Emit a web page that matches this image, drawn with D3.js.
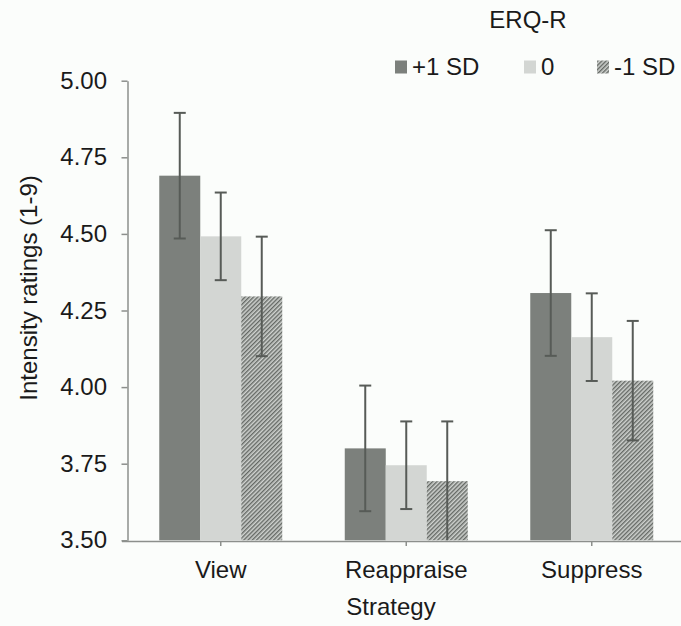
<!DOCTYPE html>
<html><head><meta charset="utf-8">
<script src="https://cdn.jsdelivr.net/npm/d3@7"></script>
<style>
html,body{margin:0;padding:0;background:#fbfdfb;}
svg{display:block;}
text{font-family:"Liberation Sans",Arial,sans-serif;fill:#1a1a1a;}
</style></head>
<body><svg id="c" width="681" height="626"></svg>
<script>
const categories = ["View", "Reappraise", "Suppress"];
const seriesNames = ["+1 SD", "0", "-1 SD"];
const plus1SD = [4.69, 3.80, 4.307];
const zeroSD = [4.492, 3.745, 4.163];
const minus1SD = [4.296, 3.693, 4.021];
const plus1Err = [0.205, 0.205, 0.205];
const zeroErr = [0.143, 0.143, 0.143];
const minus1Err = [0.195, 0.195, 0.195];
const yTicks = [3.50, 3.75, 4.00, 4.25, 4.50, 4.75, 5.00];

const values = [plus1SD, zeroSD, minus1SD];
const errs = [plus1Err, zeroErr, minus1Err];
const fills = ["#7c807c", "#d3d6d3", "url(#hatch)"];
const FS = "24px";

const svg = d3.select("#c");
const defs = svg.append("defs");
const pat = defs.append("pattern").attr("id","hatch").attr("patternUnits","userSpaceOnUse")
  .attr("width",3).attr("height",3).attr("patternTransform","rotate(45)");
pat.append("rect").attr("width",3).attr("height",3).attr("fill","#cfd2cf");
pat.append("rect").attr("width",1.4).attr("height",3).attr("fill","#656965");

const y = d3.scaleLinear().domain([3.5,5.0]).range([540.3,80.7]);
const x0 = d3.scaleBand().domain(categories).range([128,684.5]).paddingInner(0.337).paddingOuter(0.1685);
const x1 = d3.scaleBand().domain(seriesNames).range([0,x0.bandwidth()]).padding(0);

const axisColor = "#8c8f8c";
// y axis
const yAxis = svg.append("g").attr("transform","translate(127.5,0)")
  .call(d3.axisLeft(y).tickValues(yTicks).tickFormat(d3.format(".2f")).tickSize(6).tickSizeOuter(0));
yAxis.select(".domain").attr("stroke",axisColor).attr("stroke-width",1.5);
yAxis.selectAll(".tick line").attr("stroke",axisColor).attr("stroke-width",1.5);
yAxis.selectAll(".tick text").attr("x",-20.5).attr("font-size",FS).attr("fill","#1a1a1a")
  .style("font-family","'Liberation Sans',Arial,sans-serif");

// bars
const groups = svg.append("g").selectAll("g").data(categories).join("g")
  .attr("transform",d=>`translate(${x0(d)},0)`);
seriesNames.forEach((s,si)=>{
  groups.append("rect")
    .attr("x",x1(s)).attr("width",x1.bandwidth())
    .attr("y",(d,i)=>y(values[si][i]))
    .attr("height",(d,i)=>y(3.5)-y(values[si][i]))
    .attr("fill",fills[si]);
});

// x axis
const xAxis = svg.append("g").attr("transform","translate(0,541)")
  .call(d3.axisBottom(x0).tickSize(5).tickSizeOuter(0));
xAxis.select(".domain").attr("d","M122,0.5H681").attr("stroke",axisColor).attr("stroke-width",1.5);
xAxis.selectAll(".tick line").attr("stroke",axisColor).attr("stroke-width",1.5);
xAxis.selectAll(".tick text").attr("y",37).attr("dy",0).attr("font-size",FS).attr("fill","#1a1a1a")
  .style("font-family","'Liberation Sans',Arial,sans-serif");

// error bars
const eb = svg.append("g");
seriesNames.forEach((s,si)=>{
  categories.forEach((c,i)=>{
    const cx = x0(c)+x1(s)+x1.bandwidth()/2;
    const v = values[si][i], e = errs[si][i];
    const g = eb.append("g").attr("stroke","#575b57").attr("stroke-width",2);
    g.append("line").attr("x1",cx).attr("x2",cx).attr("y1",y(v+e)).attr("y2",Math.min(y(v-e),540.3));
    g.append("line").attr("x1",cx-6).attr("x2",cx+6).attr("y1",y(v+e)).attr("y2",y(v+e));
    if (y(v-e) < 539) g.append("line").attr("x1",cx-6).attr("x2",cx+6).attr("y1",y(v-e)).attr("y2",y(v-e));
  });
});

// axis titles
svg.append("text").attr("transform","translate(37,288) rotate(-90)").attr("text-anchor","middle")
  .attr("font-size",FS).text("Intensity ratings (1-9)");
svg.append("text").attr("x",391).attr("y",615).attr("text-anchor","middle")
  .attr("font-size",FS).text("Strategy");

// legend
svg.append("text").attr("x",528).attr("y",28).attr("text-anchor","middle")
  .attr("font-size",FS).text("ERQ-R");
const legX = [395, 524, 597];
seriesNames.forEach((s,si)=>{
  svg.append("rect").attr("x",legX[si]).attr("y",60.5).attr("width",12).attr("height",13).attr("fill",fills[si]);
  svg.append("text").attr("x",legX[si]+17).attr("y",75).attr("font-size",FS).text(s);
});
</script></body></html>
